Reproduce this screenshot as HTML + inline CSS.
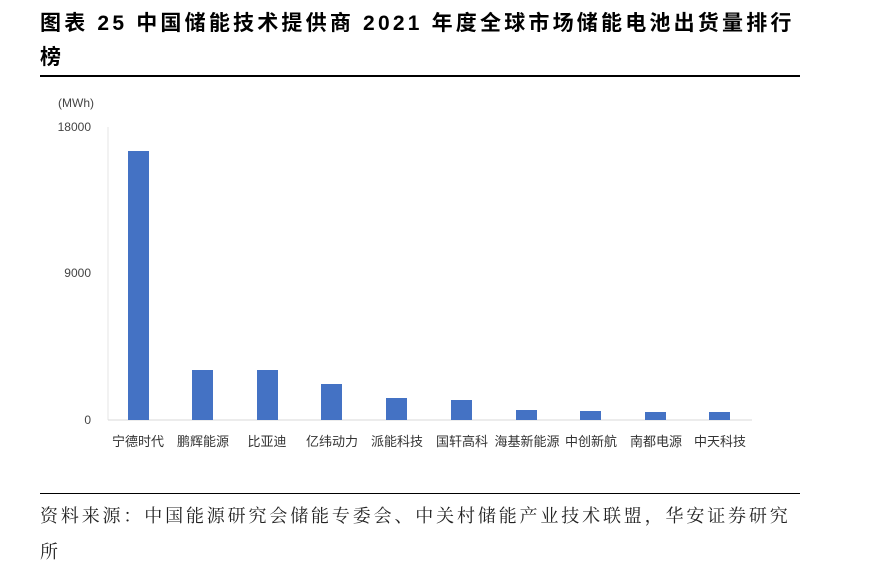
<html><head><style>
body{margin:0;background:#fff;width:883px;height:586px;position:relative;overflow:hidden;font-family:"Liberation Sans","Noto Sans CJK SC",sans-serif}
.t{position:absolute;left:40px;top:7px;font-size:21px;font-weight:bold;color:#000;line-height:34px;width:820px;letter-spacing:3.2px;white-space:nowrap}
.hr{position:absolute;left:40px;width:760px;border-top:2px solid #000}
.s{position:absolute;left:40px;top:498px;font-family:"Liberation Serif","Noto Serif CJK SC",serif;font-size:18px;line-height:36px;color:#222;width:820px;letter-spacing:2.85px;white-space:nowrap}
</style></head><body>
<div class="t">图表 25 中国储能技术提供商 2021 年度全球市场储能电池出货量排行<br>榜</div>
<div class="hr" style="top:75px"></div>
<svg width="883" height="586" style="position:absolute;left:0;top:0" font-family="Liberation Sans,Noto Sans CJK SC,sans-serif" font-size="12" fill="#444">
<text x="58" y="107">(MWh)</text>
<text x="91" y="131" text-anchor="end">18000</text>
<text x="91" y="277" text-anchor="end">9000</text>
<text x="91" y="424" text-anchor="end">0</text>
<line x1="108" y1="127" x2="108" y2="420" stroke="#e6e6e6"/>
<line x1="108" y1="420" x2="752" y2="420" stroke="#d9d9d9"/>
<g fill="#4472c4">
<rect x="128" y="151" width="21" height="269"/>
<rect x="192" y="370" width="21" height="50"/>
<rect x="257" y="370" width="21" height="50"/>
<rect x="321" y="384" width="21" height="36"/>
<rect x="386" y="398" width="21" height="22"/>
<rect x="451" y="400" width="21" height="20"/>
<rect x="516" y="410" width="21" height="10"/>
<rect x="580" y="411" width="21" height="9"/>
<rect x="645" y="412" width="21" height="8"/>
<rect x="709" y="412" width="21" height="8"/>
</g>
<g text-anchor="middle" font-size="13" fill="#333">
<text x="138" y="446">宁德时代</text><text x="203" y="446">鹏辉能源</text><text x="267" y="446">比亚迪</text><text x="332" y="446">亿纬动力</text><text x="397" y="446">派能科技</text><text x="462" y="446">国轩高科</text><text x="527" y="446">海基新能源</text><text x="591" y="446">中创新航</text><text x="656" y="446">南都电源</text><text x="720" y="446">中天科技</text>
</g>
</svg>
<div class="hr" style="top:493px;border-top-width:1px"></div>
<div class="s">资料来源：中国能源研究会储能专委会、中关村储能产业技术联盟，华安证券研究<br>所</div>
</body></html>
